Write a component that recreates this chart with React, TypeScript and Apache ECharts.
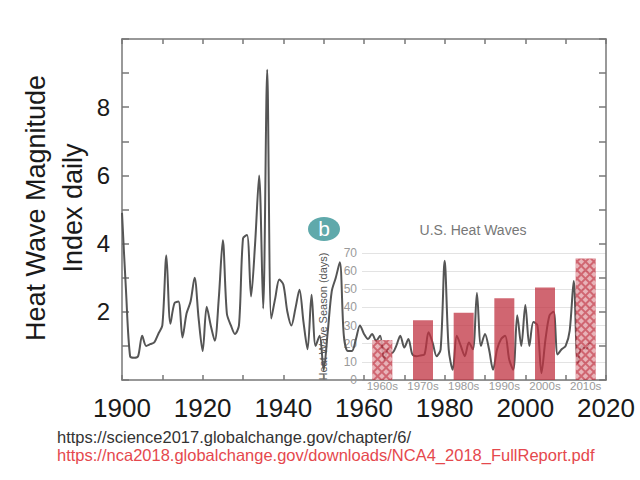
import React, { useEffect, useRef } from "react";
import * as echarts from "echarts";

// Heat Wave Magnitude Index (daily), one value per year from 1900
const firstYear = 1900;
const hwmiValues = [
  4.9, 2.6, 0.7, 0.65, 0.7, 1.3, 1.0, 1.05, 1.1, 1.35, // 1900s
  1.6, 3.65, 1.65, 2.25, 2.3, 1.25, 1.95, 2.3, 3.0, 1.8, // 1910s
  0.85, 2.15, 1.6, 1.15, 2.4, 4.1, 1.95, 1.6, 1.35, 1.6, // 1920s
  4.15, 4.25, 2.45, 4.0, 6.0, 2.1, 9.1, 1.8, 2.4, 2.95, // 1930s
  2.8, 2.0, 1.6, 2.1, 2.65, 1.7, 0.9, 2.5, 1.0, 1.3, // 1940s
  0.3, 1.4, 2.6, 3.0, 3.45, 1.3, 0.85, 0.85, 1.2, 1.6, // 1950s
  1.35, 1.2, 1.35, 1.15, 1.3, 0.6, 0.9, 0.8, 1.0, 1.3, // 1960s
  0.95, 1.2, 0.75, 0.7, 0.72, 0.75, 1.4, 1.1, 0.7, 0.9, // 1970s
  3.5, 0.9, 0.3, 1.3, 1.0, 0.7, 1.1, 0.9, 2.55, 1.0, // 1980s
  1.35, 0.9, 0.3, 0.9, 1.2, 1.3, 0.6, 0.3, 1.9, 1.0, // 1990s
  2.2, 1.0, 1.7, 1.6, 0.2, 1.2, 1.9, 2.0, 0.75, 0.9, // 2000s
  1.0, 1.45, 2.9, 0.5, 1.0, 0.9, 1.1, // 2010s
];

// U.S. heat wave season length by decade (days)
const decades = ["1960s", "1970s", "1980s", "1990s", "2000s", "2010s"];
const seasonDays = [22, 33, 37, 45, 51, 67];
const hatchedDecades = ["1960s", "2010s"];

const mainYTicks = [2, 4, 6, 8];

const FONT = "'Liberation Sans', Arial, Helvetica, sans-serif";
const AXIS_GREY = "#777";
const BAR_RED = "rgba(192, 48, 64, 0.74)";

const frameLine = { show: true, onZero: false, lineStyle: { color: AXIS_GREY, width: 1.5 } };
const innerTick = (length: number) => ({
  show: true,
  inside: true,
  length,
  lineStyle: { color: AXIS_GREY, width: 1.5 },
});

function buildOption(): echarts.EChartsOption {
  const lineData = hwmiValues.map((v, i) => [firstYear + i, v]);
  const barData = decades.map((d, i) => ({
    value: seasonDays[i],
    itemStyle: hatchedDecades.includes(d)
      ? {
          color: BAR_RED,
          decal: {
            symbol: "rect",
            symbolSize: 1,
            color: "rgba(255,255,255,0.5)",
            dashArrayX: [4, 2],
            dashArrayY: [4, 2],
            rotation: Math.PI / 4,
          },
        }
      : { color: BAR_RED },
  }));

  return {
    animation: false,
    backgroundColor: "#ffffff",
    textStyle: { fontFamily: FONT },
    grid: [
      { left: 122, top: 39, width: 484, height: 341 },
      { left: 362, top: 253, width: 244, height: 127 },
    ],
    xAxis: [
      {
        gridIndex: 0,
        type: "value",
        min: 1900,
        max: 2020,
        interval: 10,
        position: "bottom",
        axisLine: frameLine,
        axisTick: innerTick(5),
        axisLabel: {
          formatter: (v: number) => (v % 20 === 0 ? String(v) : ""),
          fontSize: 26,
          color: "#1a1a1a",
          margin: 15,
          fontFamily: FONT,
        },
        splitLine: { show: false },
      },
      {
        gridIndex: 0,
        type: "value",
        min: 1900,
        max: 2020,
        interval: 10,
        position: "top",
        axisLine: frameLine,
        axisTick: innerTick(5),
        axisLabel: { show: false },
        splitLine: { show: false },
      },
      {
        gridIndex: 1,
        type: "category",
        data: decades,
        axisLine: { show: false },
        axisTick: { show: false },
        axisLabel: { interval: 0, fontSize: 11.5, color: "#9a9a9a", margin: 0, fontFamily: FONT },
        splitLine: { show: false },
      },
    ],
    yAxis: [
      {
        gridIndex: 0,
        type: "value",
        min: 0,
        max: 10,
        interval: 1,
        position: "left",
        axisLine: frameLine,
        axisTick: innerTick(7),
        axisLabel: {
          formatter: (v: number) => (mainYTicks.includes(v) ? String(v) : ""),
          fontSize: 24,
          color: "#1a1a1a",
          margin: 12,
          fontFamily: FONT,
        },
        splitLine: { show: false },
      },
      {
        gridIndex: 0,
        type: "value",
        min: 0,
        max: 10,
        interval: 1,
        position: "right",
        axisLine: frameLine,
        axisTick: innerTick(7),
        axisLabel: { show: false },
        splitLine: { show: false },
      },
      {
        gridIndex: 1,
        type: "value",
        min: 0,
        max: 70,
        interval: 10,
        axisLine: { show: false },
        axisTick: { show: false },
        axisLabel: { fontSize: 12, color: "#9a9a9a", margin: 5, fontFamily: FONT },
        splitLine: { show: true, lineStyle: { color: "#e3e3e3", width: 1 } },
        name: "Heat Wave Season (days)",
        nameLocation: "middle",
        nameRotate: 90,
        nameGap: 34,
        nameTextStyle: { fontSize: 11, color: "#555", fontFamily: FONT },
      },
    ],
    series: [
      {
        name: "Heat Wave Magnitude Index daily",
        type: "line",
        xAxisIndex: 0,
        yAxisIndex: 0,
        data: lineData,
        showSymbol: false,
        smooth: 0.3,
        lineStyle: { color: "#555", width: 2 },
        z: 2,
      },
      {
        name: "U.S. Heat Waves",
        type: "bar",
        xAxisIndex: 2,
        yAxisIndex: 2,
        data: barData,
        barWidth: 20,
        z: 3,
      },
    ],
    graphic: [
      {
        type: "text",
        x: 54,
        y: 208,
        rotation: Math.PI / 2,
        style: {
          text: "Heat Wave Magnitude\nIndex daily",
          font: `27px ${FONT}`,
          fill: "#1a1a1a",
          align: "center",
          verticalAlign: "middle",
          lineHeight: 37,
        },
      },
      {
        type: "ellipse",
        shape: { cx: 324, cy: 229, rx: 16, ry: 12 },
        style: { fill: "#5fa9ab" },
        z: 10,
      },
      {
        type: "text",
        x: 324,
        y: 228,
        style: {
          text: "b",
          font: `21px ${FONT}`,
          fill: "#ffffff",
          align: "center",
          verticalAlign: "middle",
        },
        z: 11,
      },
      {
        type: "text",
        x: 473,
        y: 230,
        style: {
          text: "U.S. Heat Waves",
          font: `14px ${FONT}`,
          fill: "#777",
          align: "center",
          verticalAlign: "middle",
        },
      },
      {
        type: "text",
        x: 57,
        y: 437,
        style: {
          text: "https://science2017.globalchange.gov/chapter/6/",
          font: `16.5px ${FONT}`,
          fill: "#333",
          align: "left",
          verticalAlign: "middle",
        },
      },
      {
        type: "text",
        x: 57,
        y: 455,
        style: {
          text: "https://nca2018.globalchange.gov/downloads/NCA4_2018_FullReport.pdf",
          font: `16.5px ${FONT}`,
          fill: "#e5484d",
          align: "left",
          verticalAlign: "middle",
        },
      },
    ],
  };
}

export default function App() {
  const ref = useRef<HTMLDivElement>(null);

  useEffect(() => {
    if (!ref.current) return;
    const chart = echarts.init(ref.current, undefined, { renderer: "svg" });
    chart.setOption(buildOption());
    return () => chart.dispose();
  }, []);

  return (
    <div
      ref={ref}
      style={{ position: "absolute", left: 0, top: 0, width: 640, height: 480 }}
    />
  );
}
